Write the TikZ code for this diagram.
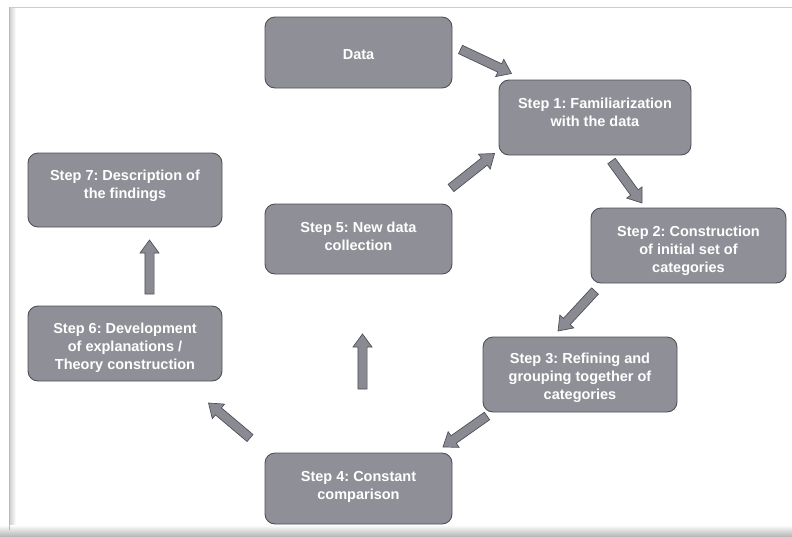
\documentclass[tikz,border=0pt]{standalone}
\usepackage{fontspec}
\setmainfont{Liberation Sans}
\usetikzlibrary{calc}

\definecolor{boxfill}{RGB}{143,143,151}
\definecolor{boxline}{RGB}{80,80,88}
\definecolor{arrowfill}{RGB}{138,138,146}
\definecolor{framegray}{RGB}{205,205,205}

\tikzset{
  stagebox/.style={draw=boxline, line width=0.9pt, fill=boxfill,
    rounded corners=10pt, inner sep=0pt},
  stagetext/.style={text=white, align=center, inner sep=0pt,
    font=\fontsize{14.5}{18}\selectfont\bfseries\frenchspacing},
  blockarrow/.style={draw=boxline, line width=0.7pt, fill=arrowfill,
    line join=miter},
}

% thick block arrow from tail #1 to tip #2
\newcommand\blockarrow[2]{%
  \coordinate (hb) at ($(#2)!13pt!(#1)$);
  \draw[blockarrow]
    ($(#1)!4.6pt!90:(#2)$) -- ($(hb)!4.6pt!90:(#2)$) -- ($(hb)!9.5pt!90:(#2)$)
    -- (#2)
    -- ($(hb)!9.5pt!-90:(#2)$) -- ($(hb)!4.6pt!-90:(#2)$) -- ($(#1)!4.6pt!-90:(#2)$)
    -- cycle;
}

\begin{document}
\frenchspacing
\begin{tikzpicture}[x=1pt, y=-1pt]
\useasboundingbox (0,0) rectangle (792,536);

% page frame with soft edges
\shade[left color=gray!35, right color=white] (10,8) rectangle (16,528);
\shade[top color=white, bottom color=gray!55] (0,525) rectangle (792,536);
\draw[framegray, line width=1.6pt] (9,7.5) -- (792,7.5);
\draw[gray!55, line width=1.4pt] (9.2,7) -- (9.2,530);

% stages
\node[stagebox, minimum width=187pt, minimum height=71pt] (data) at (358.5,52.5) {};
\node[stagetext] (datat) at ([yshift=-2.5pt]data.center) {Data};

\node[stagebox, minimum width=192pt, minimum height=75pt] (s1) at (595,117.5) {};
\node[stagetext] (s1t) at ([yshift=5pt]s1.center) {Step 1: Familiarization\\with the data};

\node[stagebox, minimum width=195pt, minimum height=75pt] (s2) at (688.5,245.5) {};
\node[stagetext] (s2t) at ([yshift=-5pt]s2.center) {Step 2: Construction\\of initial set of\\categories};

\node[stagebox, minimum width=194pt, minimum height=75pt] (s3) at (580,374.5) {};
\node[stagetext] (s3t) at ([yshift=-3pt]s3.center) {Step 3: Refining and\\grouping together of\\categories};

\node[stagebox, minimum width=187pt, minimum height=71pt] (s4) at (358.5,488.5) {};
\node[stagetext] (s4t) at ([yshift=2pt]s4.center) {Step 4: Constant\\comparison};

\node[stagebox, minimum width=187pt, minimum height=70pt] (s5) at (358.5,239) {};
\node[stagetext] (s5t) at ([yshift=2.5pt]s5.center) {Step 5: New data\\collection};

\node[stagebox, minimum width=194pt, minimum height=75pt] (s6) at (125,343.5) {};
\node[stagetext] (s6t) at ([yshift=-4.5pt]s6.center) {Step 6: Development\\of explanations /\\Theory construction};

\node[stagebox, minimum width=194pt, minimum height=74pt] (s7) at (125,190) {};
\node[stagetext] (s7t) at ([yshift=4pt]s7.center) {Step 7: Description of\\the findings};

% arrow end points in the gaps between stages
\coordinate (a1) at (460.5,49.5);  \coordinate (b1) at (511.5,73.5);
\coordinate (a2) at (611.5,161);   \coordinate (b2) at (642,203);
\coordinate (a3) at (595,291);     \coordinate (b3) at (558,331);
\coordinate (a4) at (487,416);     \coordinate (b4) at (443,447);
\coordinate (a5) at (250,438);     \coordinate (b5) at (208.5,403);
\coordinate (a6) at (362.5,389);   \coordinate (b6) at (362.5,334);
\coordinate (a7) at (451,188);     \coordinate (b7) at (494.5,153.5);
\coordinate (a8) at (149.5,294);   \coordinate (b8) at (149.5,240);

\blockarrow{a1}{b1}
\blockarrow{a2}{b2}
\blockarrow{a3}{b3}
\blockarrow{a4}{b4}
\blockarrow{a5}{b5}
\blockarrow{a6}{b6}
\blockarrow{a7}{b7}
\blockarrow{a8}{b8}
\end{tikzpicture}
\end{document}
